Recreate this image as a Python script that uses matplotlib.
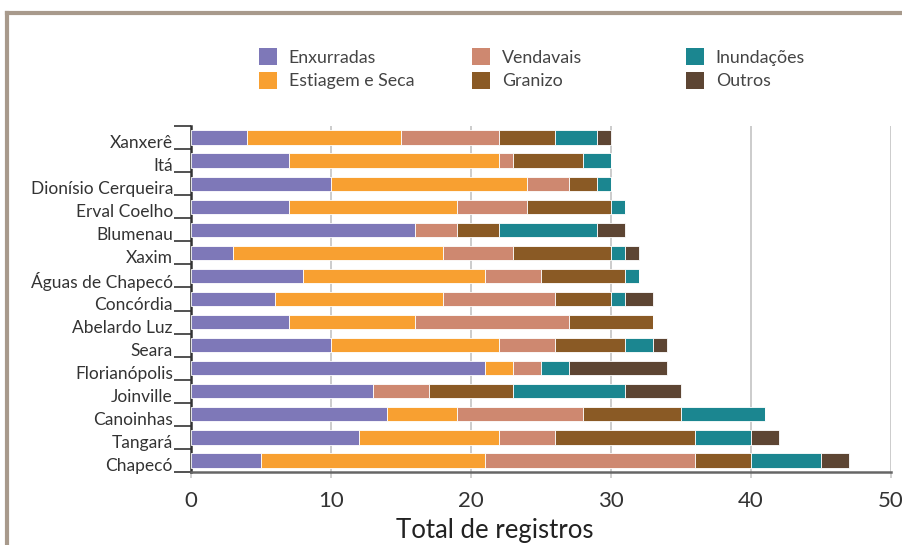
import matplotlib.pyplot as plt
import matplotlib.transforms as mtransforms
from matplotlib.patches import Patch
from matplotlib.lines import Line2D
import numpy as np

plt.rcParams['font.family'] = ['Lato', 'DejaVu Sans']

# municipios, de cima para baixo
cidades = ['Xanxerê', 'Itá', 'Dionísio Cerqueira', 'Erval Coelho', 'Blumenau',
           'Xaxim', 'Águas de Chapecó', 'Concórdia', 'Abelardo Luz', 'Seara',
           'Florianópolis', 'Joinville', 'Canoinhas', 'Tangará', 'Chapecó']

enxurradas = [4, 7, 10, 7, 16, 3, 8, 6, 7, 10, 21, 13, 14, 12, 5]
estiagem = [11, 15, 14, 12, 0, 15, 13, 12, 9, 12, 2, 0, 5, 10, 16]
vendavais = [7, 1, 3, 5, 3, 5, 4, 8, 11, 4, 2, 4, 9, 4, 15]
granizo = [4, 5, 2, 6, 3, 7, 6, 4, 6, 5, 0, 6, 7, 10, 4]
inundacoes = [3, 2, 1, 1, 7, 1, 1, 1, 0, 2, 2, 8, 6, 4, 5]
outros = [1, 0, 0, 0, 2, 1, 0, 2, 0, 1, 7, 4, 0, 2, 2]

series = [('Enxurradas', enxurradas, '#7e78b8'),
          ('Estiagem e Seca', estiagem, '#f8a031'),
          ('Vendavais', vendavais, '#ce8870'),
          ('Granizo', granizo, '#8a5a25'),
          ('Inundações', inundacoes, '#1b8690'),
          ('Outros', outros, '#5d4533')]

fig = plt.figure(figsize=(9.02, 5.45), dpi=100)
ax = fig.add_axes([191/902, 1 - 472/545, 700/902, 346/545])

y = np.arange(len(cidades))
left = np.zeros(len(cidades))
for nome, vals, cor in series:
    vals = np.array(vals)
    ax.barh(y, vals, left=left, height=0.62, color=cor,
            edgecolor='white', linewidth=0.6, zorder=3)
    left = left + vals

ax.set_xlim(0, 50)
ax.set_ylim(len(cidades) - 0.5, -0.5)
ax.set_xticks(np.arange(0, 51, 10))
ax.tick_params(axis='x', direction='out', length=4, width=1.2, color='#c8c8c8',
               labelsize=16, labelcolor='#333333', pad=10)
ax.grid(axis='x', color='#c8c8c8', linewidth=1.3, zorder=0)
ax.set_axisbelow(True)

ax.set_yticks(y)
ax.set_yticklabels(cidades)
ax.set_yticks(np.arange(-0.5, len(cidades)), minor=True)
ax.tick_params(axis='y', which='major', length=0, pad=13, labelsize=12.5,
               labelcolor='#333333')
ax.tick_params(axis='y', which='minor', length=12.5, width=1.2, color='#333333')
off = mtransforms.ScaledTranslation(0, -4/100, fig.dpi_scale_trans)
for lab in ax.get_yticklabels():
    lab.set_transform(lab.get_transform() + off)

for s in ['top', 'right']:
    ax.spines[s].set_visible(False)
ax.spines['left'].set_color('#333333')
ax.spines['left'].set_linewidth(1.8)
ax.spines['bottom'].set_color('#666666')
ax.spines['bottom'].set_linewidth(1.8)

ax.set_xlabel('Total de registros', fontsize=18.5, color='#222222')
ax.xaxis.set_label_coords((495 - 191)/700, -46/346)

# legenda em tres colunas fixas
col_x = [259, 472, 686]
for i, xc in enumerate(col_x):
    handles = [Patch(facecolor=c, edgecolor='none', label=n)
               for n, v, c in series[2*i:2*i+2]]
    fig.legend(handles=handles, loc='upper left',
               bbox_to_anchor=(xc/902, 1 - 48/545), frameon=False,
               fontsize=12.8, handlelength=1.0, handleheight=1.1,
               handletextpad=0.68, labelspacing=0.35, borderpad=0,
               borderaxespad=0, labelcolor='#444444')

# moldura
fig.add_artist(Line2D([7/902, 1], [1 - 13/545, 1 - 13/545], color='#a89a8c',
                      linewidth=3, transform=fig.transFigure))
fig.add_artist(Line2D([7/902, 7/902], [0, 1 - 13/545], color='#a89a8c',
                      linewidth=3, transform=fig.transFigure))

fig.savefig('out.png', dpi=100)
